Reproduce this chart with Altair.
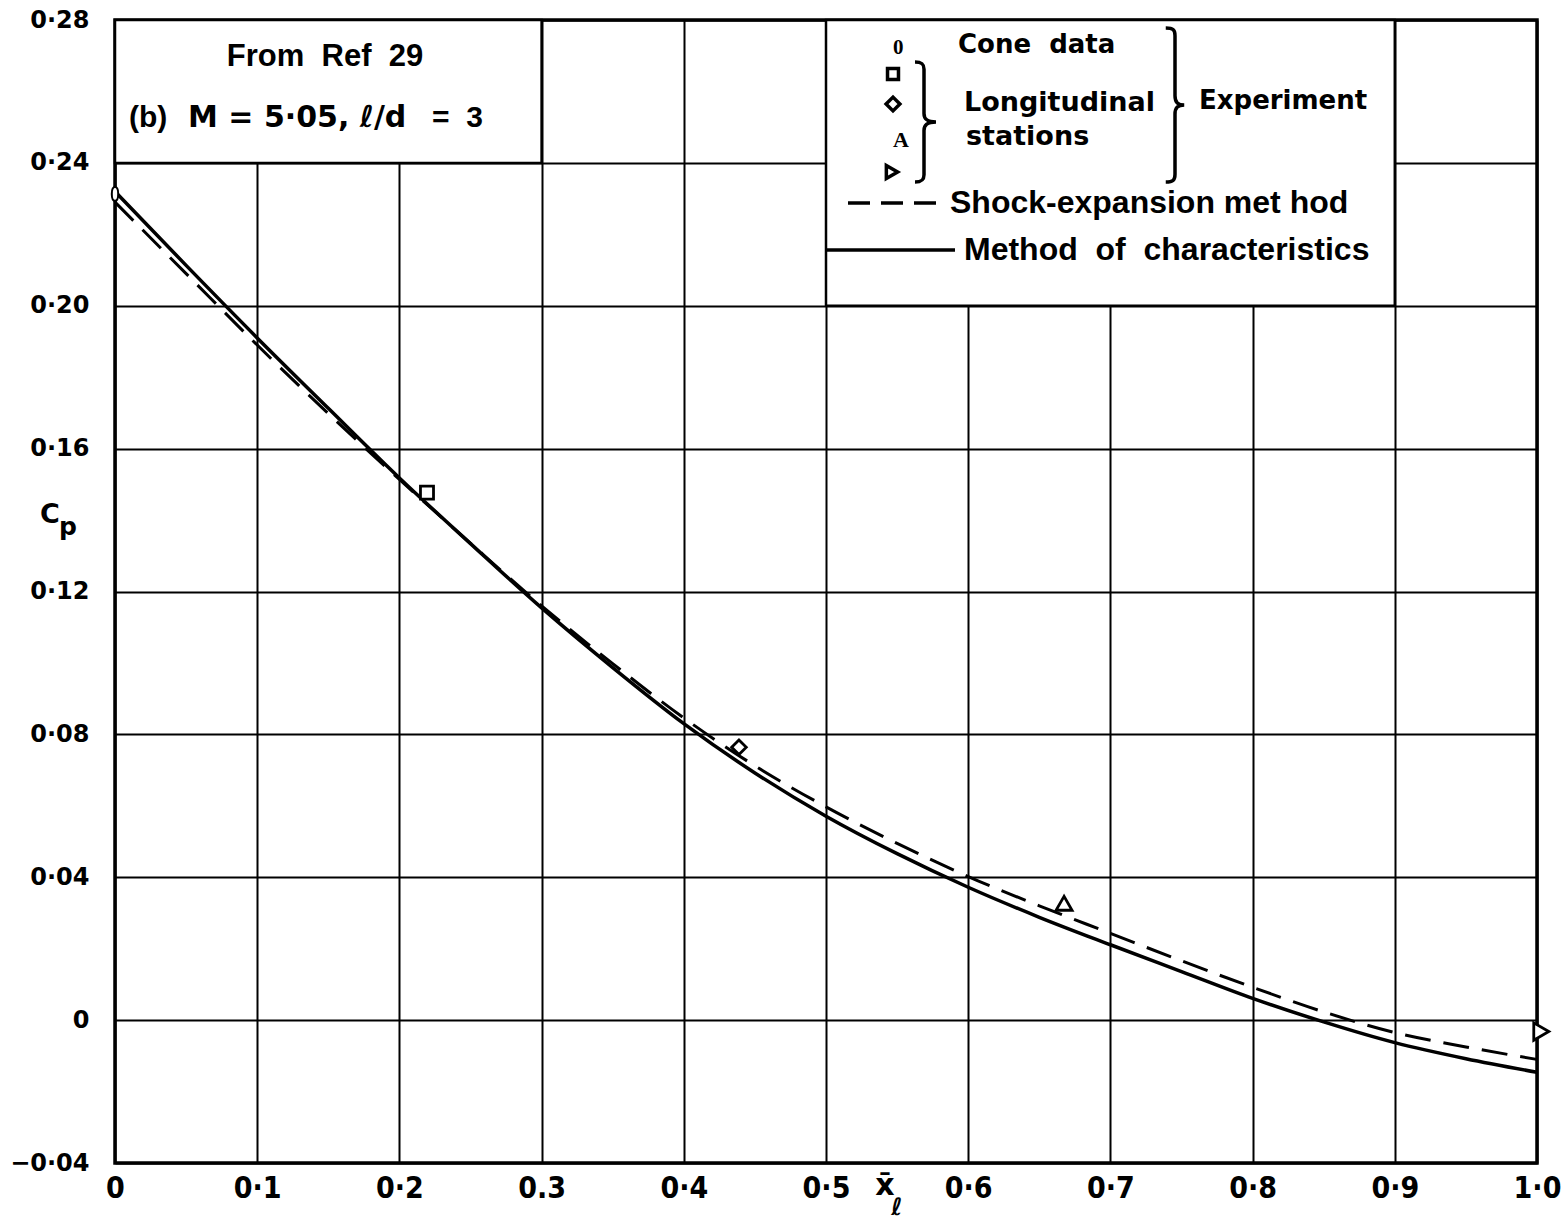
import json

import altair as alt
import pandas as pd

# Pressure distribution on a cone-cylinder, M = 5.05, l/d = 3
x_stations = [0.00, 0.05, 0.10, 0.15, 0.20, 0.25, 0.30, 0.35, 0.40, 0.45, 0.50,
              0.55, 0.60, 0.65, 0.70, 0.75, 0.80, 0.85, 0.90, 0.95, 1.00]
cp_characteristics = [0.2320, 0.2113, 0.1910, 0.1713, 0.1518, 0.1334, 0.1154,
                      0.0987, 0.0830, 0.0692, 0.0571, 0.0466, 0.0372, 0.0288,
                      0.0211, 0.0136, 0.0061, -0.0005, -0.0063, -0.0108, -0.0146]
cp_shock_expansion = [0.2290, 0.2090, 0.1890, 0.1698, 0.1514, 0.1335, 0.1160,
                      0.0998, 0.0846, 0.0712, 0.0597, 0.0495, 0.0402, 0.0320,
                      0.0243, 0.0166, 0.0092, 0.0023, -0.0035, -0.0075, -0.0110]

cone_x = [0.0]
cone_cp = [0.2313]

station_x = [0.2194, 0.4388, 0.6674, 1.003]
station_cp = [0.1477, 0.0764, 0.0327, -0.0032]
station_marker = ["square", "diamond", "triangle-up", "triangle-right"]

x_ticks = [0, 0.1, 0.2, 0.3, 0.4, 0.5, 0.6, 0.7, 0.8, 0.9, 1.0]
x_tick_labels = ["0", "0·1", "0·2", "0.3", "0·4", "0·5", "0·6", "0·7", "0·8", "0·9", "1·0"]
y_ticks = [-0.04, 0, 0.04, 0.08, 0.12, 0.16, 0.20, 0.24, 0.28]
y_tick_labels = ["−0·04", "0", "0·04", "0·08", "0·12", "0·16", "0·20", "0·24", "0·28"]

# Panels that hold the caption and the key (in data units)
panel_x0 = [0.0, 0.5]
panel_x1 = [0.3, 0.9]
panel_y0 = [0.24, 0.20]
panel_y1 = [0.28, 0.28]

W, H = 1422, 1143
LEFT, TOP = 115, 20

ROUND = "DejaVu Sans"
CONDENSED = "DejaVu Sans Condensed, DejaVu Sans"
ARIAL = "Liberation Sans, Arial"
SERIF = "Liberation Serif, Times New Roman"
NB = "\u00a0"  # non-breaking space keeps the wide word gaps


def label_expr(values, labels):
    return (f"{json.dumps(labels, ensure_ascii=False)}"
            f"[indexof({json.dumps(values)}, datum.value)]")


x_scale = alt.Scale(domain=[0, 1], nice=False, zero=False)
y_scale = alt.Scale(domain=[-0.04, 0.28], nice=False, zero=False)

x_axis = alt.Axis(values=x_ticks, labelExpr=label_expr(x_ticks, x_tick_labels),
                  title=None, grid=True, gridColor="black", gridWidth=2,
                  gridOpacity=1, ticks=False, domain=False,
                  labelFont=CONDENSED, labelFontSize=30, labelFontWeight="bold",
                  labelColor="black", labelPadding=10, labelFlush=False,
                  labelOverlap=False)
y_axis = alt.Axis(values=y_ticks, labelExpr=label_expr(y_ticks, y_tick_labels),
                  title=None, grid=True, gridColor="black", gridWidth=2,
                  gridOpacity=1, ticks=False, domain=False,
                  labelFont=ROUND, labelFontSize=24, labelFontWeight="bold",
                  labelColor="black", labelPadding=26, labelFlush=False,
                  labelOverlap=False)


def X(field):
    return alt.X(field, type="quantitative", scale=x_scale, axis=x_axis)


def Y(field):
    return alt.Y(field, type="quantitative", scale=y_scale, axis=y_axis)


panels = pd.DataFrame({"x0": panel_x0, "x1": panel_x1, "y0": panel_y0, "y1": panel_y1})
char_df = pd.DataFrame({"x": x_stations, "cp": cp_characteristics})
shock_df = pd.DataFrame({"x": x_stations, "cp": cp_shock_expansion})
cone_df = pd.DataFrame({"x": cone_x, "cp": cone_cp})
station_df = pd.DataFrame({"x": station_x, "cp": station_cp, "marker": station_marker})

ONE = alt.Data(values=[{"k": 0}])

OVAL = "M0,-1 C0.62,-1 0.62,1 0,1 C-0.62,1 -0.62,-1 0,-1 Z"
BRACE_BIG = ("M-0.12,-1 C-0.02,-1 0,-0.97 0,-0.9 L0,-0.12 C0,-0.03 0.04,0 0.12,0 "
             "C0.04,0 0,0.03 0,0.12 L0,0.9 C0,0.97 -0.02,1 -0.12,1")
BRACE_SMALL = ("M-0.15,-1 C-0.03,-1 0,-0.96 0,-0.88 L0,-0.14 C0,-0.04 0.06,0 0.2,0 "
               "C0.06,0 0,0.04 0,0.14 L0,0.88 C0,0.96 -0.03,1 -0.15,1")

panel_layer = alt.Chart(panels).mark_rect(
    fill="white", stroke="black", strokeWidth=2.5
).encode(x=X("x0"), x2="x1", y=Y("y0"), y2="y1")

char_line = alt.Chart(char_df).mark_line(
    color="black", strokeWidth=3.5, interpolate="monotone"
).encode(x=X("x"), y=Y("cp"))

shock_line = alt.Chart(shock_df).mark_line(
    color="black", strokeWidth=3, strokeDash=[26, 13], interpolate="monotone"
).encode(x=X("x"), y=Y("cp"))

cone_pts = alt.Chart(cone_df).mark_point(
    shape=OVAL, size=190, filled=True, fill="white", stroke="black",
    strokeWidth=2, opacity=1
).encode(x=X("x"), y=Y("cp"))

station_pts = alt.Chart(station_df).mark_point(
    filled=True, fill="white", stroke="black", strokeWidth=2.8, opacity=1
).encode(
    x=X("x"), y=Y("cp"),
    shape=alt.Shape("marker:N", scale=None),
    size=alt.Size("marker:N", scale=alt.Scale(domain=station_marker,
                                              range=[170, 300, 420, 260]),
                  legend=None),
)


def text(t, x, y, font=ARIAL, size=28, weight="bold", align="left"):
    return alt.Chart(ONE).mark_text(
        text=t, font=font, fontSize=size, fontWeight=weight, align=align,
        baseline="middle", color="black"
    ).encode(x=alt.value(x - LEFT), y=alt.value(y - TOP))


def symbol(shape, x, y, size, width=2.5, fill=None):
    kw = dict(filled=True, fill=fill) if fill else dict(filled=False)
    return alt.Chart(ONE).mark_point(
        shape=shape, size=size, stroke="black", strokeWidth=width, opacity=1, **kw
    ).encode(x=alt.value(x - LEFT), y=alt.value(y - TOP))


def sample(x0, x1, y, dash=None, width=3.5):
    kw = dict(strokeDash=dash) if dash else {}
    return alt.Chart(ONE).mark_rule(color="black", strokeWidth=width, **kw).encode(
        x=alt.value(x0 - LEFT), x2=alt.value(x1 - LEFT), y=alt.value(y - TOP))


annotations = [
    # caption panel
    text(f"From{NB}{NB}Ref{NB}{NB}29", 325, 57, size=31, align="center"),
    text("(b)", 129, 118, size=30),
    text("M = 5·05, ℓ/d", 188, 118, font=ROUND, size=30),
    text(f"={NB}{NB}3", 432, 118, size=30),
    # key
    text("0", 893, 48, font=SERIF, size=21),
    symbol("square", 893, 74, 120, width=3.5),
    symbol("diamond", 893, 104, 190, width=3.5),
    text("A", 893, 140, font=SERIF, size=22),
    symbol("triangle-right", 892, 172, 170, width=3.5),
    symbol(BRACE_SMALL, 924, 122, 120 ** 2, width=3.5),
    text(f"Cone{NB}{NB}data", 958, 45, font=ROUND, size=26),
    text("Longitudinal", 964, 103, font=ROUND, size=27),
    text("stations", 966, 137, font=ROUND, size=27),
    symbol(BRACE_BIG, 1175, 105, 154 ** 2, width=3.5),
    text("Experiment", 1199, 101, font=ROUND, size=26),
    sample(848, 945, 203, dash=[22, 11], width=3.5),
    text("Shock-expansion met hod", 950, 203, size=32),
    sample(826, 955, 250, width=3.5),
    text(f"Method{NB}{NB}of{NB}{NB}characteristics", 964, 250, size=32),
    # axis titles
    text("x̄", 885, 1186, font=ROUND, size=30, weight="bold", align="center"),
    text("ℓ", 897, 1208, font=ROUND, size=24, weight="bold", align="center"),
    text("C", 50, 515, font=ROUND, size=27, weight="bold", align="center"),
    text("p", 68, 527, font=ROUND, size=25, weight="bold", align="center"),
]

chart = alt.layer(
    panel_layer, shock_line, char_line, cone_pts, station_pts, *annotations
).properties(
    width=W, height=H,
    padding={"left": LEFT, "top": TOP, "right": 1567 - LEFT - W, "bottom": 1220 - TOP - H},
    autosize=alt.AutoSizeParams(type="none"),
    background="white",
).configure_view(stroke="black", strokeWidth=3.5)

chart.save("out.html", embed_options={"renderer": "svg", "actions": False})
